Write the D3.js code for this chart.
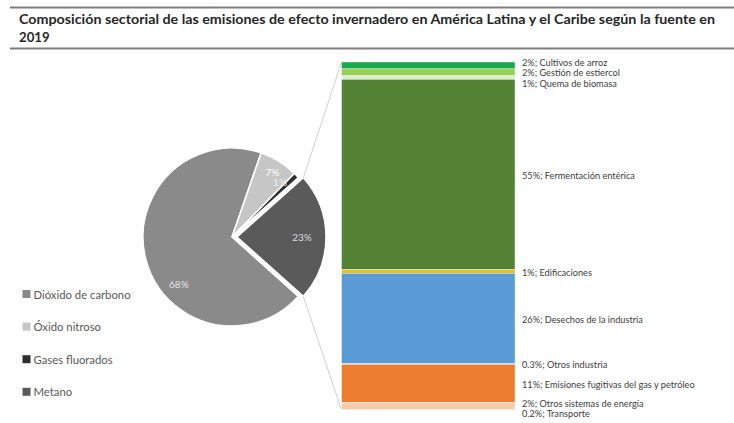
<!DOCTYPE html>
<html><head><meta charset="utf-8">
<script src="https://cdn.jsdelivr.net/npm/d3@7"></script>
<style>body{margin:0;background:#fff} svg{display:block}</style>
</head><body>
<script>
// Greenhouse gas composition (pie) and breakdown of methane by source (stacked bar)
const gasNames = ["Dióxido de carbono", "Óxido nitroso", "Gases fluorados", "Metano"];
const gasShares = [68, 7, 1, 23];
const gasColors = ["#8a8a8a", "#c6c6c6", "#2e2e2e", "#5a5a5a"];
const gasLabelColors = ["#e4e4e4", "#ffffff", "#eeeeee", "#dcdcdc"];

const sourceNames = ["Cultivos de arroz", "Gestión de estiercol", "Quema de biomasa",
  "Fermentación entérica", "Edificaciones", "Desechos de la industria", "Otros industria",
  "Emisiones fugitivas del gas y petróleo", "Otros sistemas de energía", "Transporte"];
const sourceShares = [2, 2, 1, 55, 1, 26, 0.3, 11, 2, 0.2];
const sourceColors = ["#1aa84c", "#96d155", "#dcefcf", "#548235", "#e3c224",
  "#5b9bd5", "#9dc3e6", "#ed7d31", "#f8cbad", "#f3a19b"];

const W = 734, H = 423;
const svg = d3.select("body").append("svg").attr("width", W).attr("height", H);
const font = "Lato, 'Open Sans', sans-serif";

// Title with rules above and below
svg.append("line").attr("x1", 10).attr("x2", W).attr("y1", 7.5).attr("y2", 7.5)
  .attr("stroke", "#7f7f7f").attr("stroke-width", 2);
svg.append("line").attr("x1", 10).attr("x2", W).attr("y1", 48.5).attr("y2", 48.5)
  .attr("stroke", "#7f7f7f").attr("stroke-width", 2);
const title = svg.append("text").attr("font-family", font).attr("font-weight", 700)
  .attr("font-size", 13.2).attr("fill", "#262626");
title.append("tspan").attr("x", 19).attr("y", 24)
  .attr("textLength", 696).attr("lengthAdjust", "spacingAndGlyphs")
  .text("Composición sectorial de las emisiones de efecto invernadero en América Latina y el Caribe según la fuente en");
title.append("tspan").attr("x", 19).attr("y", 42).text("2019");

// Pie: the methane slice is centred on the right-hand horizontal and pulled out
const cx = 232, cy = 237, R = 89, explode = 5;
const total = d3.sum(gasShares);
const beforeMid = d3.sum(gasShares.slice(0, 3)) + gasShares[3] / 2;
const start = Math.PI / 2 - 2 * Math.PI * beforeMid / total;
const pie = d3.pie().sort(null).value(d => d).startAngle(start).endAngle(start + 2 * Math.PI);
const arcs = pie(gasShares);
const arc = d3.arc().innerRadius(0).outerRadius(R);

const pieG = svg.append("g").attr("transform", `translate(${cx},${cy})`);
const offset = (d, i) => {
  if (i !== 3) return [0, 0];
  const m = (d.startAngle + d.endAngle) / 2;
  return [Math.sin(m) * explode, -Math.cos(m) * explode];
};
pieG.selectAll("path").data(arcs).join("path")
  .attr("d", arc)
  .attr("transform", (d, i) => `translate(${offset(d, i)})`)
  .attr("fill", (d, i) => gasColors[i])
  .attr("stroke", "#fff").attr("stroke-width", 1.5).attr("stroke-linejoin", "miter");

// Percentage labels inside the slices
const labelPos = (d, i) => {
  const span = d.endAngle - d.startAngle;
  let a = d.startAngle + span / 2, r = 0.86 * R;
  if (i === 0) { a = d.startAngle + span * 0.39; r = 0.8 * R; }
  if (i === 2) { a = d.startAngle - 0.06; r = 0.82 * R; }
  if (i === 3) r = 0.73 * R;
  const o = offset(d, i);
  return [Math.sin(a) * r + o[0], -Math.cos(a) * r + o[1]];
};
pieG.selectAll("text").data(arcs).join("text")
  .attr("transform", (d, i) => `translate(${labelPos(d, i)})`)
  .attr("text-anchor", "middle").attr("dominant-baseline", "central")
  .attr("font-family", font).attr("font-size", 10)
  .attr("fill", (d, i) => gasLabelColors[i])
  .text(d => d.data + "%");

// Stacked bar for methane sources
const barX0 = 341.5, barX1 = 515, barTop = 62, barBottom = 410;
const sourceTotal = d3.sum(sourceShares);
const y = d3.scaleLinear().domain([0, sourceTotal]).range([barTop, barBottom]);
const cum = d3.cumsum(sourceShares);
const segs = sourceShares.map((v, i) => ({ i, v, y0: cum[i] - v, y1: cum[i] }));

// Connector lines from the methane slice to the bar
const m = arcs[3], mo = offset(m, 3);
const pt = a => [cx + mo[0] + Math.sin(a) * R, cy + mo[1] - Math.cos(a) * R];
const topPt = pt(m.startAngle), botPt = pt(m.endAngle);
svg.append("line").attr("x1", topPt[0]).attr("y1", topPt[1]).attr("x2", barX0).attr("y2", y(0))
  .attr("stroke", "#d0d0d0").attr("stroke-width", 1);
svg.append("line").attr("x1", botPt[0]).attr("y1", botPt[1]).attr("x2", barX0).attr("y2", y(sourceTotal))
  .attr("stroke", "#d0d0d0").attr("stroke-width", 1);

svg.append("g").selectAll("rect").data(segs).join("rect")
  .attr("x", barX0).attr("width", barX1 - barX0)
  .attr("y", d => y(d.y0)).attr("height", d => y(d.y1) - y(d.y0))
  .attr("fill", d => sourceColors[d.i])
  .attr("stroke", "#fff").attr("stroke-width", 0.4);

// Labels at segment centres, spread apart where segments are thin
const gap = 10.2;
const ly = segs.map(d => (y(d.y0) + y(d.y1)) / 2);
for (let k = 0; k < 300; k++) {
  for (let i = 1; i < ly.length; i++) {
    const diff = ly[i] - ly[i - 1];
    if (diff < gap) {
      const push = (gap - diff) / 2;
      ly[i - 1] -= push; ly[i] += push;
    }
  }
}
svg.append("g").selectAll("text").data(segs).join("text")
  .attr("x", 522).attr("y", d => ly[d.i] + 1)
  .attr("dominant-baseline", "central")
  .attr("font-family", font).attr("font-size", 9.2).attr("fill", "#404040")
  .text(d => `${d.v}%; ${sourceNames[d.i]}`);

// Legend
const lg = svg.append("g");
const ly0 = 294, lstep = 32.6;
lg.selectAll("rect").data(gasNames).join("rect")
  .attr("x", 22.5).attr("y", (d, i) => ly0 + i * lstep - 4).attr("width", 8).attr("height", 8)
  .attr("fill", (d, i) => gasColors[i]);
lg.selectAll("text").data(gasNames).join("text")
  .attr("x", 33.5).attr("y", (d, i) => ly0 + i * lstep)
  .attr("dominant-baseline", "central")
  .attr("font-family", font).attr("font-size", 11.3).attr("fill", "#595959")
  .text(d => d);
</script>
</body></html>
